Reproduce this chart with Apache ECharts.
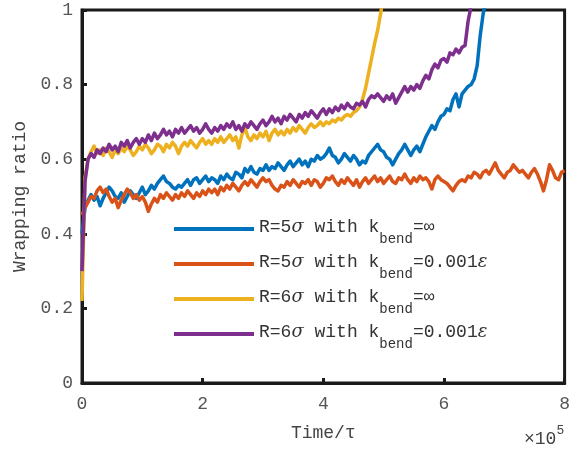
<!DOCTYPE html>
<html>
<head>
<meta charset="utf-8">
<script src="https://cdn.jsdelivr.net/npm/echarts@6/dist/echarts.min.js"></script>
<style>
  html, body { margin: 0; padding: 0; background: #fff; }
  #chart { width: 573px; height: 452px; }
</style>
</head>
<body>
<div id="chart"></div>
<script>
// Sampling interval of the recorded wrapping ratio, in units of 10^5 τ
const STEP = 0.05;

const xTicks = [0, 2, 4, 6, 8];
const yTicks = [0, 0.2, 0.4, 0.6, 0.8, 1];

// Legend pieces
const radii = ['R=5', 'R=5', 'R=6', 'R=6'];
const stiffness = ['=∞', '=0.001', '=∞', '=0.001'];
const stiffnessUnit = ['', 'ε', '', 'ε'];
const seriesNames = ['R=5σ k∞', 'R=5σ k0.001ε', 'R=6σ k∞', 'R=6σ k0.001ε'];
const colors = ['#0072BD', '#D95319', '#EDB120', '#7E2F8E'];

// R=5σ, k_bend = ∞   (t = 0 … 6.70)
const r5Rigid = [
  0.40, 0.47, 0.49, 0.505, 0.49, 0.50, 0.475, 0.495, 0.51, 0.525,
  0.515, 0.50, 0.495, 0.51, 0.485, 0.50, 0.515, 0.505, 0.495, 0.51,
  0.525, 0.505, 0.515, 0.53, 0.52, 0.535, 0.545, 0.555, 0.54, 0.535,
  0.525, 0.52, 0.53, 0.525, 0.535, 0.545, 0.53, 0.545, 0.55, 0.535,
  0.545, 0.555, 0.54, 0.55, 0.545, 0.535, 0.555, 0.545, 0.56, 0.55,
  0.545, 0.565, 0.56, 0.55, 0.575, 0.565, 0.58, 0.565, 0.56, 0.575,
  0.57, 0.585, 0.57, 0.58, 0.575, 0.59, 0.58, 0.57, 0.585, 0.595,
  0.58, 0.59, 0.60, 0.585, 0.595, 0.58, 0.60, 0.595, 0.61, 0.60,
  0.605, 0.615, 0.63, 0.61, 0.605, 0.59, 0.60, 0.615, 0.605, 0.595,
  0.61, 0.60, 0.585, 0.595, 0.59, 0.61, 0.62, 0.63, 0.64, 0.625,
  0.62, 0.605, 0.60, 0.585, 0.60, 0.615, 0.625, 0.64, 0.625, 0.61,
  0.625, 0.635, 0.62, 0.64, 0.66, 0.675, 0.69, 0.68, 0.70, 0.715,
  0.72, 0.735, 0.73, 0.76, 0.775, 0.74, 0.775, 0.785, 0.795, 0.80,
  0.815, 0.85, 0.93, 0.99, 1.03
];

// R=5σ, k_bend = 0.001ε   (t = 0 … 8.00)
const r5Soft = [
  0.45, 0.47, 0.485, 0.50, 0.495, 0.515, 0.525, 0.51, 0.52, 0.50,
  0.485, 0.495, 0.47, 0.49, 0.505, 0.52, 0.51, 0.495, 0.505, 0.49,
  0.50, 0.485, 0.46, 0.48, 0.495, 0.485, 0.505, 0.495, 0.51, 0.50,
  0.49, 0.505, 0.495, 0.51, 0.50, 0.515, 0.505, 0.495, 0.51, 0.50,
  0.515, 0.505, 0.52, 0.51, 0.52, 0.505, 0.525, 0.515, 0.53, 0.52,
  0.535, 0.525, 0.515, 0.53, 0.54, 0.53, 0.545, 0.535, 0.525, 0.54,
  0.55, 0.54, 0.545, 0.53, 0.52, 0.515, 0.53, 0.525, 0.54, 0.53,
  0.545, 0.535, 0.525, 0.54, 0.535, 0.545, 0.53, 0.545, 0.54, 0.525,
  0.535, 0.55, 0.545, 0.555, 0.54, 0.53, 0.545, 0.535, 0.55, 0.54,
  0.53, 0.545, 0.525, 0.54, 0.55, 0.535, 0.545, 0.555, 0.54, 0.55,
  0.535, 0.545, 0.555, 0.54, 0.535, 0.55, 0.545, 0.56, 0.545, 0.535,
  0.55, 0.54, 0.555, 0.545, 0.55, 0.54, 0.52, 0.545, 0.555, 0.545,
  0.54, 0.535, 0.525, 0.515, 0.53, 0.54, 0.545, 0.54, 0.555, 0.55,
  0.565, 0.56, 0.55, 0.565, 0.57, 0.56, 0.575, 0.59, 0.57, 0.56,
  0.55, 0.565, 0.57, 0.585, 0.575, 0.565, 0.57, 0.56, 0.55, 0.565,
  0.575, 0.56, 0.54, 0.515, 0.545, 0.585, 0.57, 0.55, 0.545, 0.565,
  0.57
];

// R=6σ, k_bend = ∞   (t = 0 … 5.00)
const r6Rigid = [
  0.22, 0.55, 0.60, 0.62, 0.635, 0.615, 0.625, 0.61, 0.63, 0.62,
  0.605, 0.625, 0.615, 0.63, 0.62, 0.635, 0.625, 0.61, 0.62, 0.635,
  0.625, 0.64, 0.63, 0.615, 0.625, 0.64, 0.635, 0.62, 0.64, 0.63,
  0.645, 0.635, 0.615, 0.635, 0.645, 0.635, 0.65, 0.64, 0.63, 0.645,
  0.655, 0.64, 0.65, 0.64, 0.655, 0.645, 0.66, 0.645, 0.655, 0.665,
  0.65, 0.66, 0.63, 0.665, 0.685, 0.66, 0.65, 0.665, 0.655, 0.67,
  0.66, 0.675, 0.65, 0.67, 0.68, 0.665, 0.675, 0.665, 0.68, 0.67,
  0.685, 0.675, 0.69, 0.68, 0.67, 0.685, 0.695, 0.685, 0.69, 0.70,
  0.69, 0.70, 0.695, 0.705, 0.70, 0.71, 0.705, 0.715, 0.72, 0.715,
  0.725, 0.73, 0.74, 0.76, 0.79, 0.83, 0.87, 0.91, 0.945, 0.99,
  1.04
];

// R=6σ, k_bend = 0.001ε   (t = 0 … 6.50)
const r6Soft = [
  0.30, 0.54, 0.60, 0.615, 0.605, 0.625, 0.615, 0.63, 0.62, 0.64,
  0.625, 0.635, 0.62, 0.645, 0.635, 0.65, 0.63, 0.645, 0.655, 0.64,
  0.655, 0.645, 0.665, 0.65, 0.67, 0.655, 0.665, 0.68, 0.665, 0.675,
  0.66, 0.68, 0.67, 0.685, 0.67, 0.68, 0.69, 0.675, 0.685, 0.67,
  0.68, 0.695, 0.68, 0.67, 0.685, 0.675, 0.69, 0.68, 0.695, 0.685,
  0.70, 0.68, 0.69, 0.675, 0.695, 0.685, 0.70, 0.69, 0.68, 0.695,
  0.705, 0.69, 0.70, 0.715, 0.70, 0.71, 0.695, 0.715, 0.705, 0.72,
  0.71, 0.70, 0.72, 0.71, 0.725, 0.715, 0.73, 0.72, 0.71, 0.725,
  0.735, 0.72, 0.735, 0.725, 0.74, 0.73, 0.745, 0.735, 0.75, 0.74,
  0.735, 0.75, 0.745, 0.755, 0.74, 0.76, 0.77, 0.765, 0.775, 0.765,
  0.755, 0.77, 0.76, 0.775, 0.75, 0.765, 0.78, 0.795, 0.78, 0.795,
  0.785, 0.80, 0.79, 0.81, 0.825, 0.815, 0.84, 0.855, 0.845, 0.865,
  0.87, 0.86, 0.885, 0.88, 0.895, 0.885, 0.90, 0.905, 0.97, 1.01,
  1.06
];

const FONT = '"Liberation Mono", "DejaVu Sans Mono", monospace';

function toPairs(values) {
  return values.map((v, i) => [Math.round(i * STEP * 100) / 100, v]);
}

const allValues = [r5Rigid, r5Soft, r6Rigid, r6Soft];

const chart = echarts.init(document.getElementById('chart'), null, { renderer: 'canvas' });

chart.setOption({
  animation: false,
  backgroundColor: '#fff',
  grid: {
    left: 82, right: 5, top: 10, bottom: 69,
    show: true, borderColor: '#1a1a1a', borderWidth: 3, backgroundColor: 'transparent'
  },
  xAxis: {
    type: 'value', min: xTicks[0], max: xTicks[xTicks.length - 1], interval: 2,
    name: 'Time/τ', nameLocation: 'middle', nameGap: 41,
    nameTextStyle: { fontFamily: FONT, fontSize: 18, color: '#444' },
    axisLine: { lineStyle: { color: '#1a1a1a', width: 3 } },
    axisTick: { inside: true, length: 5, lineStyle: { color: '#1a1a1a', width: 3 } },
    axisLabel: { fontFamily: FONT, fontSize: 18, color: '#555', margin: 12 },
    splitLine: { show: false }
  },
  yAxis: {
    type: 'value', min: yTicks[0], max: yTicks[yTicks.length - 1], interval: 0.2,
    name: 'Wrapping ratio', nameLocation: 'middle', nameGap: 50,
    nameTextStyle: { fontFamily: FONT, fontSize: 18, color: '#444' },
    axisLine: { lineStyle: { color: '#1a1a1a', width: 3 } },
    axisTick: { inside: true, length: 5, lineStyle: { color: '#1a1a1a', width: 3 } },
    axisLabel: { fontFamily: FONT, fontSize: 18, color: '#555', margin: 9 },
    splitLine: { show: false }
  },
  legend: {
    orient: 'vertical', left: 169, top: 213,
    icon: 'rect', itemWidth: 80, itemHeight: 4, itemGap: 7,
    selectedMode: false,
    data: seriesNames,
    formatter: function (name) {
      const i = seriesNames.indexOf(name);
      let s = '{m|' + radii[i] + '}{g|σ}{m| with k}{s|bend}{m|' + stiffness[i] + '}';
      if (stiffnessUnit[i]) s += '{g|' + stiffnessUnit[i] + '}';
      return s;
    },
    textStyle: {
      color: '#333',
      rich: {
        m: { fontFamily: FONT, fontSize: 18, color: '#333', lineHeight: 22, verticalAlign: 'top' },
        g: { fontFamily: '"DejaVu Serif", serif', fontStyle: 'italic', fontSize: 18, color: '#333', lineHeight: 22, verticalAlign: 'top' },
        s: { fontFamily: FONT, fontSize: 14, color: '#333', lineHeight: 14, padding: [14, 0, 0, 0], verticalAlign: 'top' }
      }
    }
  },
  graphic: [{
    type: 'text', left: 524, top: 424,
    style: {
      text: '{m|×10}{p|5}',
      rich: {
        m: { fontFamily: FONT, fontSize: 18, fill: '#444', lineHeight: 24, verticalAlign: 'bottom' },
        p: { fontFamily: FONT, fontSize: 13, fill: '#444', lineHeight: 13, verticalAlign: 'top' }
      }
    }
  }],
  series: allValues.map((vals, i) => ({
    name: seriesNames[i],
    type: 'line',
    data: toPairs(vals),
    showSymbol: false,
    symbol: 'none',
    clip: true,
    color: colors[i],
    lineStyle: { color: colors[i], width: 3.5, join: 'round' }
  }))
});
</script>
</body>
</html>
